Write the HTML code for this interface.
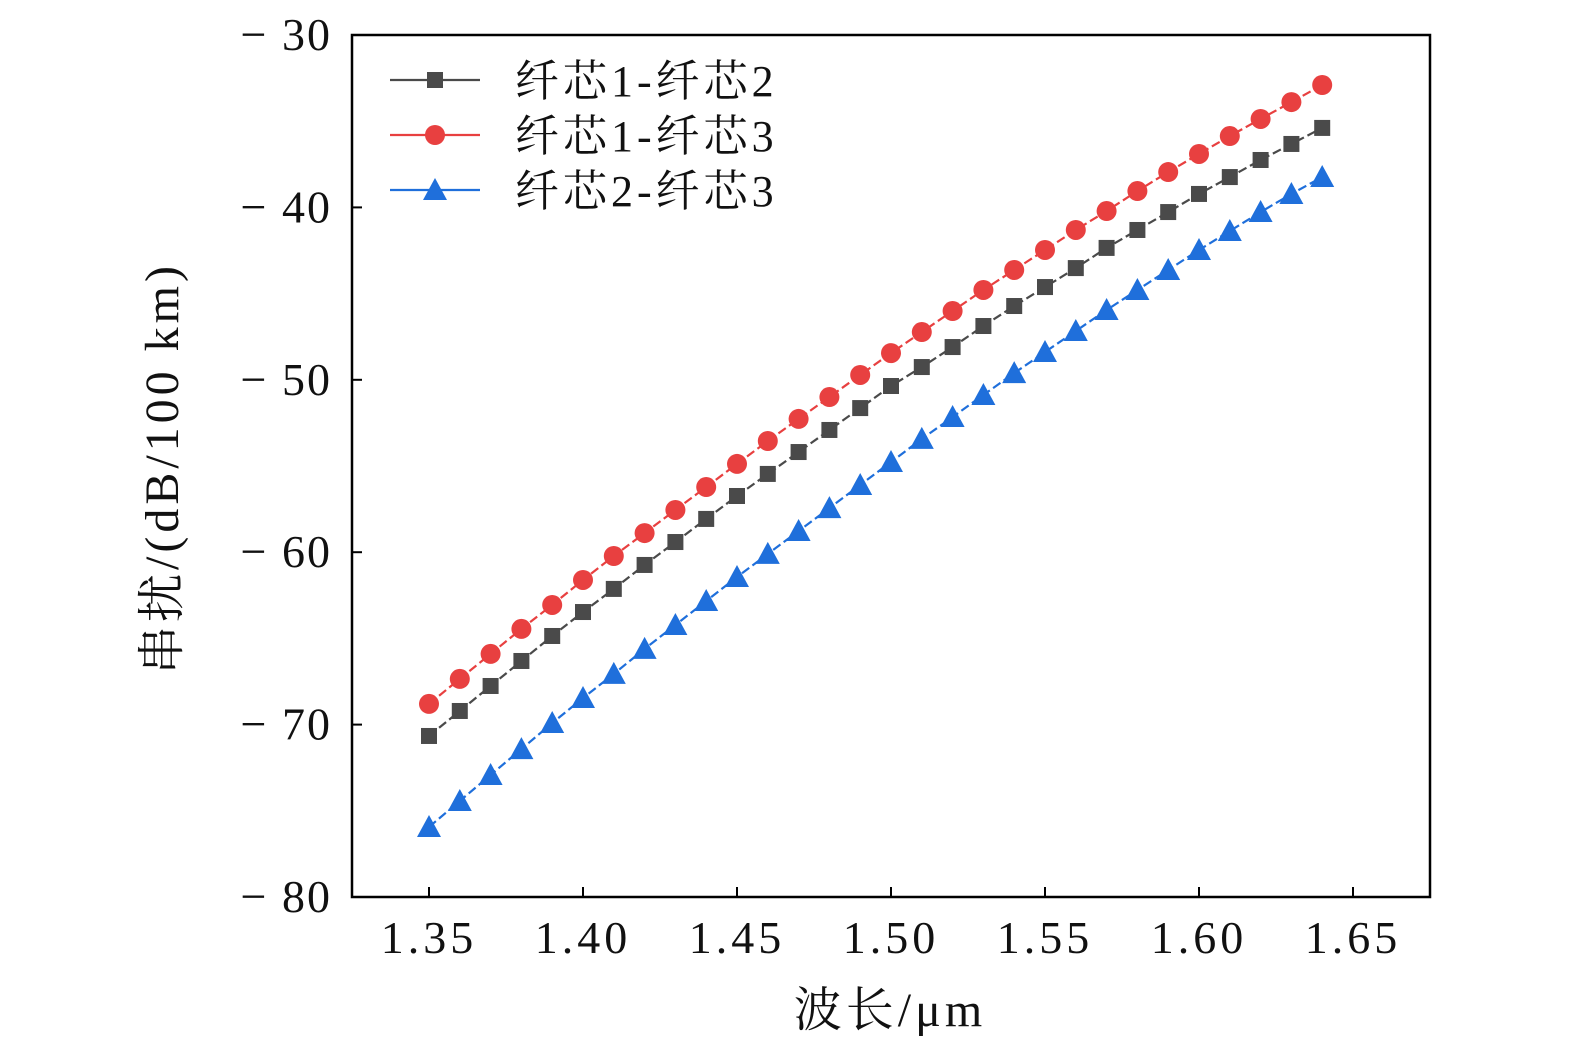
<!DOCTYPE html>
<html><head><meta charset="utf-8"><style>
html,body{margin:0;padding:0;background:#fff;}
svg text{font-family:"Liberation Serif","Noto Serif CJK SC",serif;fill:#111;}
</style></head><body>
<svg id="chart" width="1575" height="1053" viewBox="0 0 1575 1053" xmlns="http://www.w3.org/2000/svg"></svg>
<script>
const wavelengths=[1.35,1.36,1.37,1.38,1.39,1.40,1.41,1.42,1.43,1.44,1.45,1.46,1.47,1.48,1.49,1.50,1.51,1.52,1.53,1.54,1.55,1.56,1.57,1.58,1.59,1.60,1.61,1.62,1.63,1.64];
const core12=[-70.66,-69.21,-67.76,-66.31,-64.86,-63.47,-62.13,-60.74,-59.41,-58.07,-56.74,-55.46,-54.19,-52.91,-51.64,-50.36,-49.26,-48.1,-46.88,-45.72,-44.62,-43.52,-42.35,-41.31,-40.27,-39.22,-38.24,-37.25,-36.32,-35.39];
const core13=[-68.8,-67.35,-65.9,-64.45,-63.06,-61.61,-60.22,-58.89,-57.55,-56.22,-54.88,-53.55,-52.27,-51.0,-49.72,-48.45,-47.23,-46.01,-44.79,-43.63,-42.47,-41.31,-40.21,-39.05,-37.95,-36.9,-35.86,-34.87,-33.89,-32.9];
const core23=[-75.94,-74.43,-72.92,-71.42,-69.91,-68.46,-67.06,-65.61,-64.22,-62.83,-61.44,-60.1,-58.77,-57.44,-56.1,-54.77,-53.43,-52.16,-50.88,-49.61,-48.39,-47.17,-45.95,-44.79,-43.63,-42.47,-41.37,-40.27,-39.22,-38.24];
const xTicks=[1.35,1.40,1.45,1.50,1.55,1.60,1.65];
const xTickLabels=["1.35","1.40","1.45","1.50","1.55","1.60","1.65"];
const yTicks=[-30,-40,-50,-60,-70,-80];
const yTickLabels=["\u2212 30","\u2212 40","\u2212 50","\u2212 60","\u2212 70","\u2212 80"];
const seriesNames=["纤芯1-纤芯2","纤芯1-纤芯3","纤芯2-纤芯3"];

const NS="http://www.w3.org/2000/svg";
const svg=document.getElementById('chart');
const L=352,R=1430,T=35,B=897;
const xs=v=>429+(v-1.35)*(1353-429)/0.30;
const ys=v=>T+(-30-v)*(B-T)/50;
function mk(tag,attrs,parent){const e=document.createElementNS(NS,tag);for(const k in attrs)e.setAttribute(k,attrs[k]);(parent||svg).appendChild(e);return e;}

const frame=mk('rect',{x:L,y:T,width:R-L,height:B-T,fill:'none',stroke:'#000','stroke-width':2.5});



xTicks.forEach((t,i)=>{
  const x=xs(t);
  const tk=mk('line',{x1:x,y1:B,x2:x,y2:B-10,stroke:'#000','stroke-width':2});
  
  
  const tx=mk('text',{x:x,y:953,'text-anchor':'middle','font-size':46,'letter-spacing':4});
  tx.textContent=xTickLabels[i];
  
  
});
yTicks.forEach((t,i)=>{
  const y=ys(t);
  const tk=mk('line',{x1:L,y1:y,x2:L+10,y2:y,stroke:'#000','stroke-width':2});
  
  
  const tx=mk('text',{x:332,y:y+15,'text-anchor':'end','font-size':46,'letter-spacing':2});
  tx.textContent=yTickLabels[i];
  
  
});

const xt=mk('text',{x:890,y:1026,'text-anchor':'middle','font-size':48,'letter-spacing':4});
xt.textContent='波长/μm';


const yt=mk('text',{x:0,y:0,'text-anchor':'middle','font-size':48,'letter-spacing':4,transform:'translate(178,468) rotate(-90)'});
yt.textContent='串扰/(dB/100 km)';



function marker(type,x,y,color,g){
  if(type==='square') return mk('rect',{x:x-8,y:y-8,width:16,height:16,fill:color},g);
  if(type==='circle') return mk('circle',{cx:x,cy:y,r:10,fill:color},g);
  return mk('polygon',{points:`${x},${y-12} ${x+12},${y+10} ${x-12},${y+10}`,fill:color},g);
}
const series=[[core12,'#4a4a4a','square','series-core1-core2'],[core13,'#e84040','circle','series-core1-core3'],[core23,'#1f6fdb','triangle','series-core2-core3']];
series.forEach(([vals,color,type,name])=>{
  const g=mk('g',{});
  
  
  const pts=vals.map((v,i)=>xs(wavelengths[i])+','+ys(v)).join(' ');
  mk('polyline',{points:pts,fill:'none',stroke:color,'stroke-width':2.2,'stroke-dasharray':'9,4'},g);
  vals.forEach((v,i)=>{
    const m=marker(type,xs(wavelengths[i]),ys(v),color,g);
    
    
  });
});

const lg=mk('g',{});


series.forEach(([vals,color,type],i)=>{
  const y=80+i*55;
  const e=mk('g',{},lg);
  
  
  mk('line',{x1:390,y1:y,x2:480,y2:y,stroke:color,'stroke-width':2.2},e);
  marker(type,435,y,color,e);
  const t=mk('text',{x:515,y:y+16,'font-size':44,'letter-spacing':4},e);
  t.textContent=seriesNames[i];
});
</script>
</body></html>
